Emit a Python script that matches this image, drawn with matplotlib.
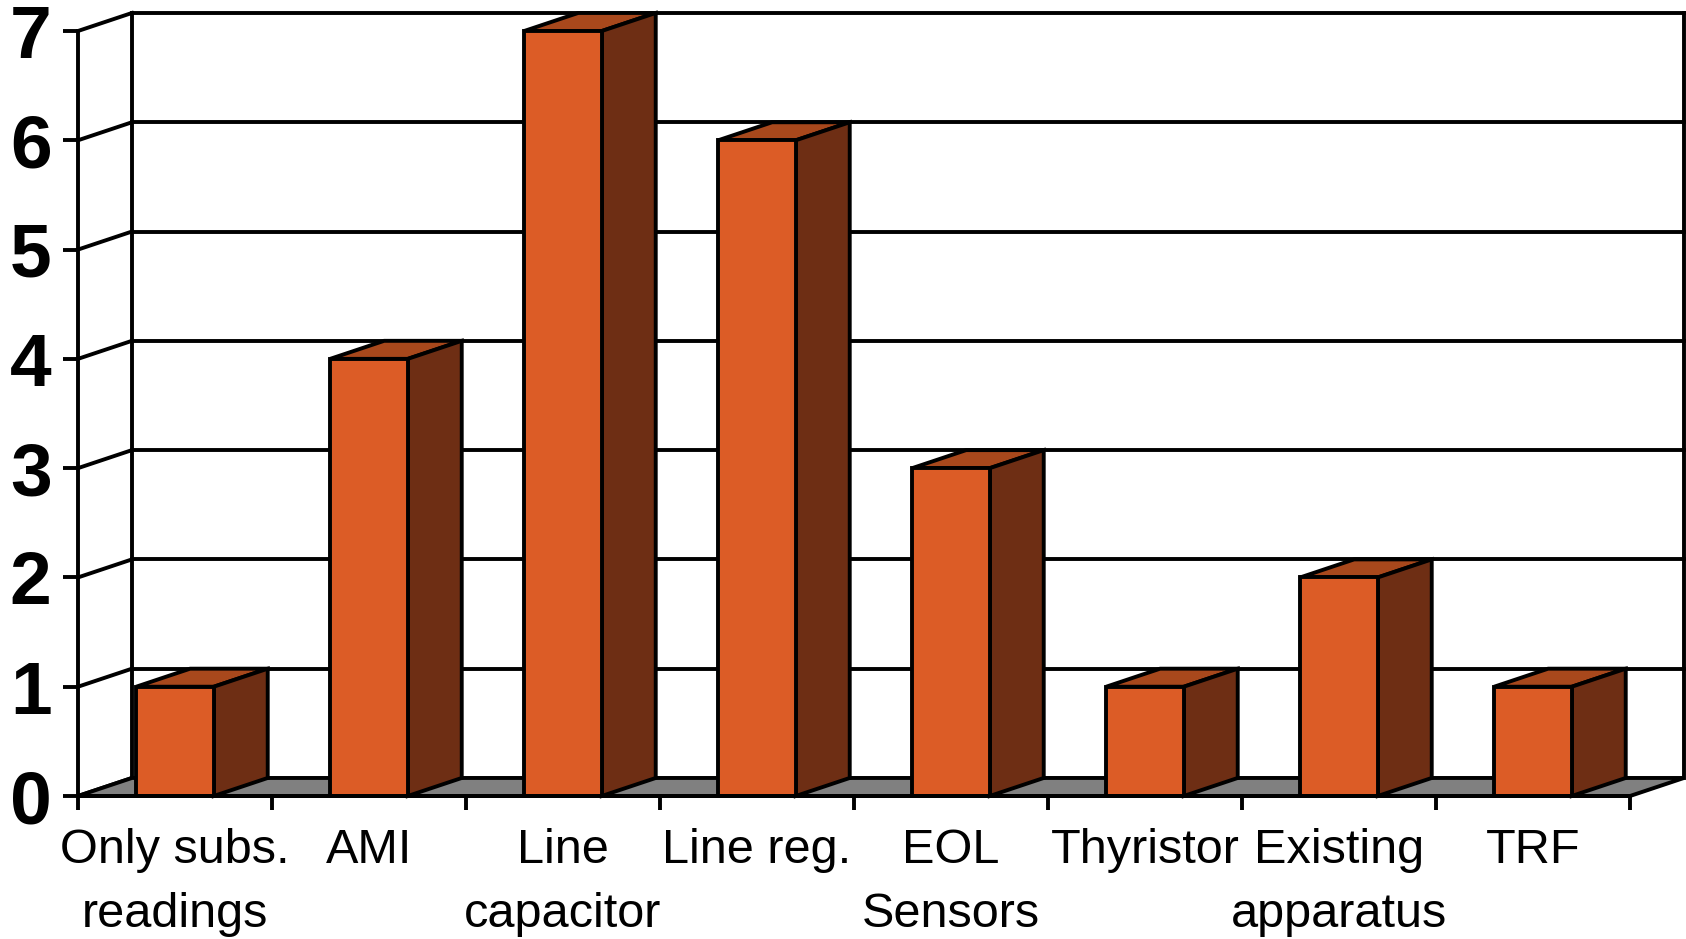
import matplotlib
matplotlib.use("Agg")
import matplotlib.pyplot as plt
from matplotlib.patches import Polygon, Rectangle

categories = ["Only subs.\nreadings", "AMI", "Line\ncapacitor", "Line reg.",
              "EOL\nSensors", "Thyristor", "Existing\napparatus", "TRF"]
values = [1, 4, 7, 6, 3, 1, 2, 1]
yticks = [0, 1, 2, 3, 4, 5, 6, 7]

FRONT = "#DC5C26"
TOP = "#A8481C"
SIDE = "#6E2E14"
FLOOR = "#808080"
LW = 2.8

plt.rcParams["font.family"] = ["Liberation Sans", "DejaVu Sans"]

fig = plt.figure(figsize=(16.86, 9.39), dpi=100)
ax = fig.add_axes([78 / 1686, 143 / 939, 1552 / 1686, 765 / 939])
n = len(categories)
ymax = max(yticks)
ax.set_xlim(0, n)
ax.set_ylim(0, ymax)

# depth of the 3d box in data units
DX = 0.278
DY = 0.165

kw = dict(color="black", lw=LW, clip_on=False, solid_capstyle="projecting")

# back wall gridlines and left wall
for v in yticks:
    ax.plot([0, DX], [v, v + DY], zorder=1, **kw)
    if v > 0:
        ax.plot([DX, n + DX], [v + DY, v + DY], zorder=1, **kw)
ax.plot([DX, DX], [DY, ymax + DY], zorder=1, **kw)
ax.plot([n + DX, n + DX], [DY, ymax + DY], zorder=1, **kw)

# floor
ax.add_patch(Polygon([(0, 0), (n, 0), (n + DX, DY), (DX, DY)], closed=True,
                     facecolor=FLOOR, edgecolor="black", lw=LW, clip_on=False,
                     zorder=2))

# bars
off, w = 0.30, 0.40
for i, v in enumerate(values):
    x0 = i + off
    ax.add_patch(Polygon([(x0, v), (x0 + w, v), (x0 + w + DX, v + DY), (x0 + DX, v + DY)],
                         closed=True, facecolor=TOP, edgecolor="black", lw=LW,
                         clip_on=False, zorder=3, joinstyle="miter"))
    ax.add_patch(Polygon([(x0 + w, 0), (x0 + w + DX, DY), (x0 + w + DX, v + DY), (x0 + w, v)],
                         closed=True, facecolor=SIDE, edgecolor="black", lw=LW,
                         clip_on=False, zorder=3, joinstyle="miter"))
    ax.add_patch(Rectangle((x0, 0), w, v, facecolor=FRONT, edgecolor="black",
                           lw=LW, clip_on=False, zorder=4, joinstyle="miter"))

for side in ["top", "right"]:
    ax.spines[side].set_visible(False)
for side in ["left", "bottom"]:
    ax.spines[side].set_linewidth(LW)
    ax.spines[side].set_zorder(5)

ax.set_yticks(yticks)
ax.set_yticklabels([str(t) for t in yticks], fontsize=54, fontweight="bold")
ax.tick_params(axis="y", length=11, width=LW, pad=8)

ax.set_xticks(range(n + 1))
ax.set_xticklabels([])
ax.tick_params(axis="x", which="major", length=10, width=LW)
ax.set_xticks([i + 0.5 for i in range(n)], minor=True)
ax.set_xticklabels(categories, minor=True, fontsize=35, linespacing=1.55)
ax.tick_params(axis="x", which="minor", length=0, pad=23)

fig.savefig("out.png", dpi=100)
